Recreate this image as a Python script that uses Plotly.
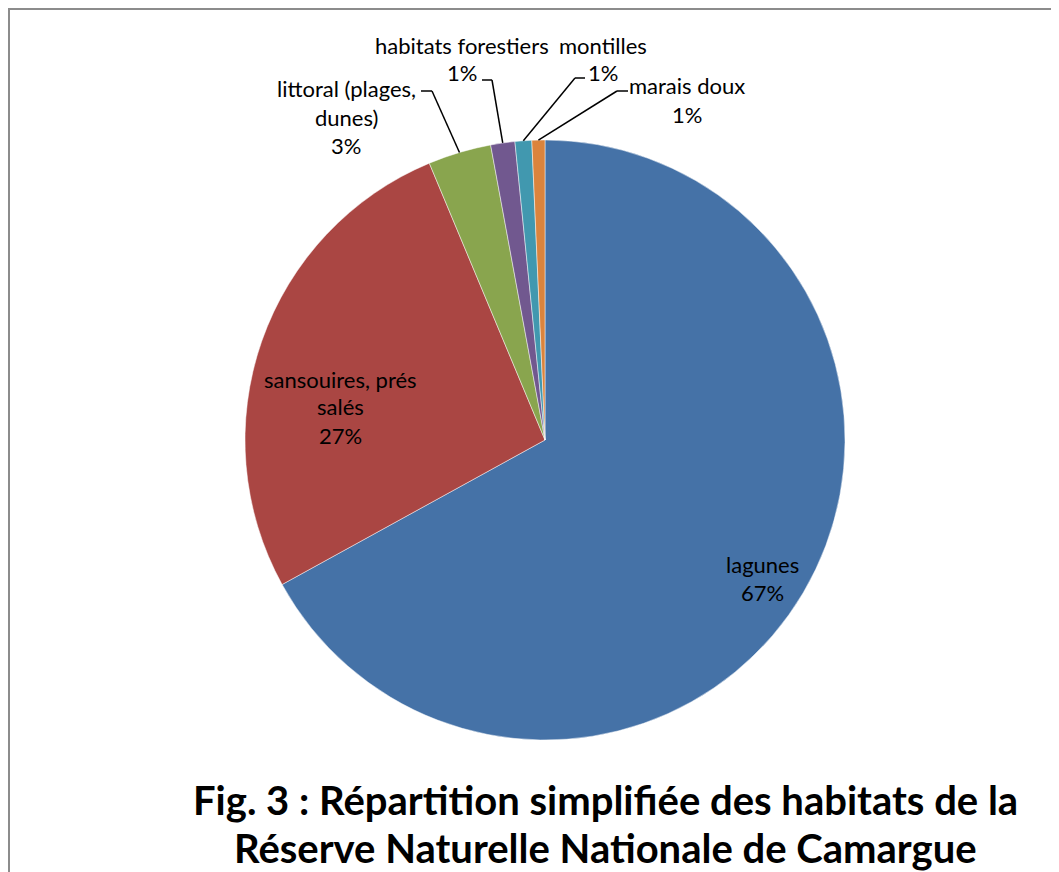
import math
import plotly.graph_objects as go

# ---- data ----
categories = ["lagunes", "sansouires, prés\nsalés", "littoral (plages,\ndunes)",
              "habitats forestiers", "montilles", "marais doux"]
values = [67.0, 26.7, 3.4, 1.3, 0.9, 0.7]
colors = ["#4572A7", "#AA4643", "#89A54E", "#71588F", "#4198AF", "#DB843D"]
title_lines = ["Fig. 3 : Répartition simplifiée des habitats de la",
               "Réserve Naturelle Nationale de Camargue"]

# ---- layout constants (pixels, in screenshot coordinates) ----
W, H = 1059, 872
OFF = 8  # page body margin
CX, CY, R = 545, 440, 300
LINE_STEP = 28
FONT = "Lato, Carlito, Calibri, sans-serif"

# label block centers (pixel) and leader-line elbow/end points (None = inside label)
label_centers = [(762, 578), (340, 407), (346, 117), (462, 59), (603, 59), (687, 100)]
leaders = [None, None,
           ((432, 91), (421, 91)),
           ((492, 80), (482, 80)),
           ((575, 78), (585, 78)),
           ((617, 91), (628, 91))]


def px(x):
    return (x - OFF) / W


def py(y):
    return 1 - (y - OFF) / H


fig = go.Figure(go.Pie(
    labels=categories,
    values=values,
    sort=False,
    direction="clockwise",
    rotation=0,
    marker=dict(colors=colors, line=dict(color="rgba(255,255,255,0.6)", width=0.8)),
    textinfo="none",
    hoverinfo="label+percent",
    showlegend=False,
    domain=dict(x=[px(CX - R), px(CX + R)], y=[py(CY + R), py(CY - R)]),
))

total = sum(values)
annotations = []
shapes = []
cum = 0.0
for i, (cat, v) in enumerate(zip(categories, values)):
    start = cum / total * 360
    cum += v
    end = cum / total * 360
    mid = math.radians((start + end) / 2)
    lines = cat.split("\n") + [f"{round(v / total * 100)}%"]
    bx, by = label_centers[i]
    n = len(lines)
    for j, t in enumerate(lines):
        yy = by + (j - (n - 1) / 2) * LINE_STEP
        annotations.append(dict(
            x=px(bx), y=py(yy), xref="paper", yref="paper", text=t,
            showarrow=False, xanchor="center", yanchor="middle",
            font=dict(family=FONT, size=22, color="#000000"),
        ))
    if leaders[i] is not None:
        ex = CX + R * math.sin(mid)
        ey = CY - R * math.cos(mid)
        (elx, ely), (enx, eny) = leaders[i]
        shapes.append(dict(type="line", xref="paper", yref="paper",
                           x0=px(ex), y0=py(ey), x1=px(elx), y1=py(ely),
                           line=dict(color="#000000", width=1.5)))
        shapes.append(dict(type="line", xref="paper", yref="paper",
                           x0=px(elx), y0=py(ely), x1=px(enx), y1=py(eny),
                           line=dict(color="#000000", width=1.5)))

# title lines
for k, t in enumerate(title_lines):
    annotations.append(dict(
        x=px(605), y=py(800 + k * 48), xref="paper", yref="paper", text=f"<b>{t}</b>",
        showarrow=False, xanchor="center", yanchor="middle",
        font=dict(family=FONT, size=40, color="#000000"),
    ))

# chart frame
shapes.append(dict(type="rect", xref="paper", yref="paper",
                   x0=px(OFF + 1), y0=py(OFF + 1), x1=px(W + 40), y1=py(H + 40),
                   line=dict(color="#8C8C8C", width=2), fillcolor="rgba(0,0,0,0)"))

fig.update_layout(
    width=W, height=H,
    margin=dict(l=0, r=0, t=0, b=0),
    paper_bgcolor="#FFFFFF",
    plot_bgcolor="#FFFFFF",
    annotations=annotations,
    shapes=shapes,
)

fig.write_html("out.html")
